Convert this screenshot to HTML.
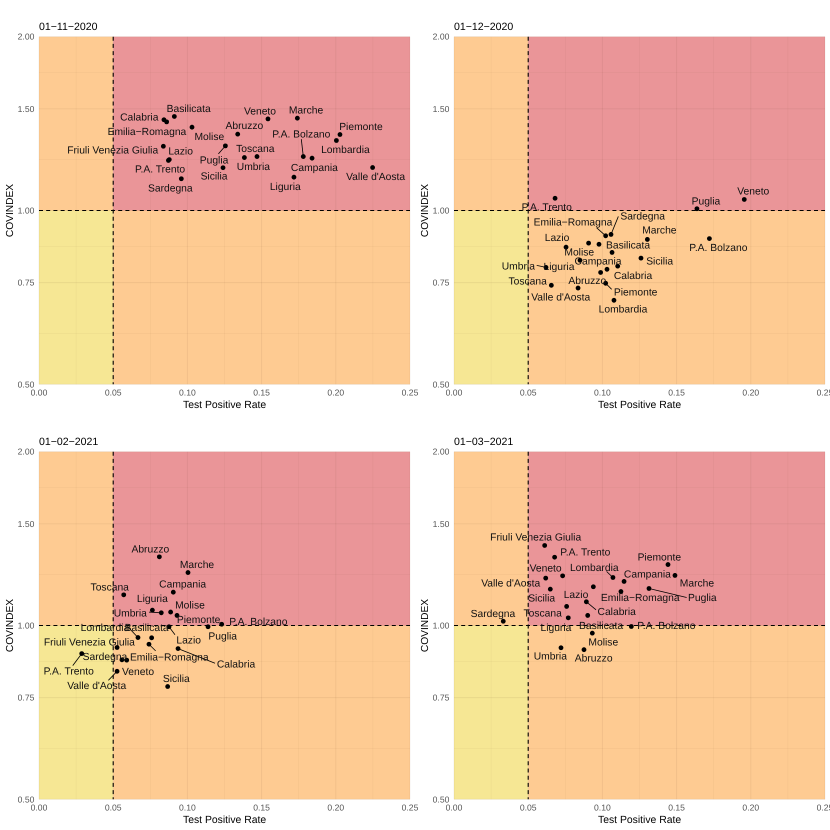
<!DOCTYPE html>
<html lang="en">
<head>
<meta charset="utf-8">
<title>COVINDEX vs Test Positive Rate</title>
<style>
html,body{margin:0;padding:0;background:#fff;}
svg{display:block;font-family:"Liberation Sans",sans-serif;text-rendering:geometricPrecision;}
</style>
</head>
<body>
<svg id="chart" xmlns="http://www.w3.org/2000/svg" width="830" height="830" viewBox="0 0 830 830"></svg>
<script>
const regions = ["Abruzzo","Basilicata","Calabria","Campania","Emilia\u2212Romagna","Friuli Venezia Giulia","Lazio","Liguria","Lombardia","Marche","Molise","P.A. Bolzano","P.A. Trento","Piemonte","Puglia","Sardegna","Sicilia","Toscana","Umbria","Valle d'Aosta","Veneto"];

const dates = ["01\u221211\u22122020","01\u221212\u22122020","01\u221202\u22122021","01\u221203\u22122021"];

const xTicks = [0,0.05,0.10,0.15,0.20,0.25];
const xMinorTicks = [0.025,0.075,0.125,0.175,0.225];
const yTicks = [0.5,0.75,1,1.5,2];
const yMinorTicks = [0.612,0.866,1.225,1.732];
const trThreshold = 0.05;
const covThreshold = 1;

const tprNov = [.1339,.0912,.0842,.1840,.0860,.0838,.0878,.1718,.2004,.1741,.1031,.1781,.0872,.2028,.1256,.0959,.1240,.1469,.1384,.2248,.1543];
const covNov = [1.356,1.455,1.436,1.232,1.424,1.292,1.225,1.142,1.322,1.445,1.394,1.240,1.221,1.354,1.294,1.135,1.186,1.240,1.235,1.187,1.441];

const tprDec = [.0988,.1065,.1103,.1031,.1022,.0977,.0755,.0849,.1078,.1303,.0907,.1721,.0681,.1022,.1637,.1058,.1260,.0656,.0620,.0836,.1956];
const covDec = [.781,.846,.801,.791,.904,.874,.864,.820,.699,.891,.878,.894,1.050,.748,1.007,.909,.827,.742,.797,.734,1.045];

const tprFeb = [.0811,.0759,.0937,.0905,.0741,.0526,.0876,.0764,.0667,.1004,.0887,.1231,.0288,.0930,.1139,.0559,.0867,.0571,.0824,.0526,.0591];
const covFeb = [1.315,.952,.912,1.142,.928,.916,.995,1.063,.953,1.235,1.055,1.005,.894,1.041,.995,.872,.784,1.130,1.052,.833,.871];

const tprMar = [.0876,.0901,.0892,.1146,.1125,.0611,.0939,.0770,.1071,.1489,.0932,.1195,.0678,.1442,.1314,.0332,.0649,.0759,.0721,.0618,.0732];
const covMar = [.908,1.041,1.099,1.192,1.145,1.376,1.167,1.031,1.211,1.221,.970,.996,1.313,1.275,1.159,1.017,1.156,1.079,.915,1.208,1.219];

/* Repel layout: label-centre nudges relative to each point, in thirds of a pixel. null = no label drawn. */
const nudgeNov = [[20,-26],[43,-24],[-74,-9],[7,27],[-59,28],[-152,11],[34,-26],[-26,27],[27,26],[26,-25],[52,27],[-6,-68],[-25,26],[63,-24],[-34,42],[-33,28],[-27,25],[-5,-24],[27,26],[9,26],[-24,-24]];
const nudgeDec = [[-40,24],[48,-23],[46,28],[-27,-25],[-98,-41],null,[-27,-30],[-63,18],[27,26],[36,-28],[-28,26],[27,26],[-25,26],[90,26],[27,-24],[95,-56],[56,8],[-71,-13],[-83,-4],[-52,26],[27,-25]];
const nudgeFeb = [[-27,-24],[-15,-32],[174,46],[28,-25],[61,38],[-83,-17],[59,40],[0,-36],[-99,-31],[27,-25],[58,-22],[110,-8],[-39,52],[65,12],[44,27],[-51,-10],[26,-24],[-42,-24],[-93,0],[-61,43],[34,34]];
const nudgeMar = [[29,25],[40,30],[91,28],[70,-22],[58,17],[-27,-25],[-52,23],[-37,29],[-56,-31],[66,22],[33,26],[105,-4],[92,-16],[-26,-23],[160,26],[-31,-24],[-26,26],[-72,20],[-32,25],[-105,15],[-51,-24]];

/* Leader-line start nudges, keyed by region index, same units. */
const leaderNov = {11:[-6,-52],14:[-21,24]};
const leaderDec = {4:[-27,-24],13:[18,18],15:[22,-54],18:[-28,-6]};
const leaderFeb = {2:[111,44],4:[20,20],6:[18,24],8:[-29,-31],12:[-27,36],18:[-37,-2],19:[-26,27]};
const leaderMar = {2:[29,24],8:[-19,-18],14:[113,27]};

const panelSeries = [
  {slug:"nov-2020",date:dates[0],tpr:tprNov,cov:covNov,nudge:nudgeNov,leader:leaderNov,ox:0,oy:0},
  {slug:"dec-2020",date:dates[1],tpr:tprDec,cov:covDec,nudge:nudgeDec,leader:leaderDec,ox:415,oy:0},
  {slug:"feb-2021",date:dates[2],tpr:tprFeb,cov:covFeb,nudge:nudgeFeb,leader:leaderFeb,ox:0,oy:415},
  {slug:"mar-2021",date:dates[3],tpr:tprMar,cov:covMar,nudge:nudgeMar,leader:leaderMar,ox:415,oy:415}
];

const NS = "http://www.w3.org/2000/svg";
const chart = document.getElementById("chart");
const LEFT = 39, RIGHT = 410, TOP = 36.7, BOTTOM = 384.3;
const X_MAX = 0.25;

function xScale(v){ return LEFT + (v / X_MAX) * (RIGHT - LEFT); }
function yScale(v){ return BOTTOM - (Math.log2(v) + 1) / 2 * (BOTTOM - TOP); }

function make(tag, attrs, parent, text){
  const el = document.createElementNS(NS, tag);
  for (const k in attrs) el.setAttribute(k, attrs[k]);
  if (text !== undefined) el.textContent = text;
  parent.appendChild(el);
  return el;
}

panelSeries.forEach(function(p){
  const g = make("g", {transform:"translate(" + p.ox + "," + p.oy + ")"}, chart);
  
  

  const xT = xScale(trThreshold), yT = yScale(covThreshold);

  const q1 = make("rect", {x:LEFT, y:TOP, width:xT-LEFT, height:yT-TOP, fill:"#fecb92"}, g);
  
  
  const q2 = make("rect", {x:xT, y:TOP, width:RIGHT-xT, height:yT-TOP, fill:"#ea9598"}, g);
  
  
  const q3 = make("rect", {x:LEFT, y:yT, width:xT-LEFT, height:BOTTOM-yT, fill:"#f6e794"}, g);
  
  
  const q4 = make("rect", {x:xT, y:yT, width:RIGHT-xT, height:BOTTOM-yT, fill:"#fecb92"}, g);
  
  

  xMinorTicks.forEach(function(v){
    const l = make("line", {x1:xScale(v), x2:xScale(v), y1:TOP, y2:BOTTOM, stroke:"rgba(90,50,30,.07)", "stroke-width":0.5}, g);
    
    
  });
  yMinorTicks.forEach(function(v){
    const l = make("line", {x1:LEFT, x2:RIGHT, y1:yScale(v), y2:yScale(v), stroke:"rgba(90,50,30,.07)", "stroke-width":0.5}, g);
    
    
  });
  xTicks.forEach(function(v){
    const l = make("line", {x1:xScale(v), x2:xScale(v), y1:TOP, y2:BOTTOM, stroke:"rgba(90,50,30,.08)", "stroke-width":0.9}, g);
    
    
    const t = make("text", {x:xScale(v), y:395.6, "text-anchor":"middle", "font-size":8.6, fill:"#555"}, g, v.toFixed(2));
    
    
  });
  yTicks.forEach(function(v){
    const l = make("line", {x1:LEFT, x2:RIGHT, y1:yScale(v), y2:yScale(v), stroke:"rgba(90,50,30,.08)", "stroke-width":0.9}, g);
    
    
    const t = make("text", {x:34.4, y:yScale(v)+3, "text-anchor":"end", "font-size":8.6, fill:"#555"}, g, v.toFixed(2));
    
    
  });

  const hRef = make("line", {x1:LEFT, x2:RIGHT, y1:yT, y2:yT, stroke:"#000", "stroke-width":1.1, "stroke-dasharray":"4 3.2"}, g);
  
  
  const vRef = make("line", {x1:xT, x2:xT, y1:TOP, y2:BOTTOM, stroke:"#000", "stroke-width":1.1, "stroke-dasharray":"4 3.2"}, g);
  
  

  const title = make("text", {x:39, y:30, "font-size":10.55, fill:"#000"}, g, p.date);
  
  
  const xTitle = make("text", {x:224.6, y:407.9, "text-anchor":"middle", "font-size":10.4, fill:"#000"}, g, "Test Positive Rate");
  
  
  const yTitle = make("text", {x:0, y:0, "text-anchor":"middle", "font-size":10.2, fill:"#000", transform:"translate(13,210.5) rotate(-90)"}, g, "COVINDEX");
  
  

  regions.forEach(function(name, i){
    const px = xScale(p.tpr[i]), py = yScale(p.cov[i]);
    const lead = p.leader[i];
    if (lead) {
      const seg = make("line", {x1:px + lead[0]/3, y1:py + lead[1]/3, x2:px, y2:py, stroke:"#000", "stroke-width":0.8}, g);
      
      
    }
    const dot = make("circle", {cx:px, cy:py, r:2.4, fill:"#000"}, g);
    
    
  });
  regions.forEach(function(name, i){
    const n = p.nudge[i];
    if (!n) return;
    const px = xScale(p.tpr[i]), py = yScale(p.cov[i]);
    const lbl = make("text", {x:px + n[0]/3, y:py + n[1]/3 + 3.6, "text-anchor":"middle", "font-size":10.3, fill:"#111"}, g, name);
    
    
  });
});
</script>
</body>
</html>
